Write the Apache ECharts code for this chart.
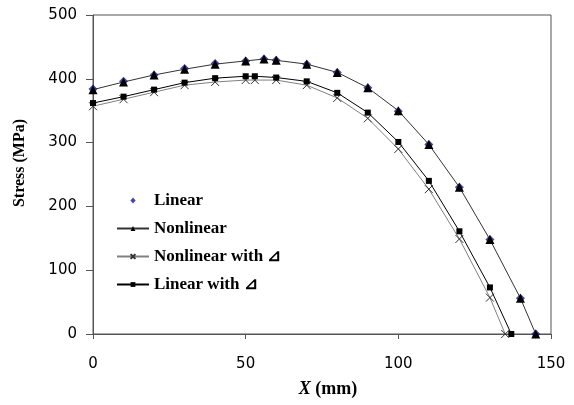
<!DOCTYPE html>
<html>
<head>
<meta charset="utf-8">
<script src="https://cdn.jsdelivr.net/npm/echarts@6/dist/echarts.min.js"></script>
<style>
  html, body { margin: 0; padding: 0; background: #fff; }
  #chart { width: 574px; height: 405px; }
</style>
</head>
<body>
<div id="chart"></div>
<script>
// Stress distribution along X for the four analysis cases
const xLinear = [0, 10, 20, 30, 40, 50, 56, 60, 70, 80, 90, 100, 110, 120, 130, 140, 145];
const linear = [384, 396, 406, 416, 424, 428, 431, 429, 423, 410, 386, 349, 297, 230, 148, 56, 0];

const xNonlinear = [0, 10, 20, 30, 40, 50, 56, 60, 70, 80, 90, 100, 110, 120, 130, 140, 145];
const nonlinear = [383, 395, 406, 415, 423, 428, 431, 429, 423, 410, 386, 350, 297, 230, 148, 56, 0];

const xNonlinearD = [0, 10, 20, 30, 40, 50, 53, 60, 70, 80, 90, 100, 110, 120, 130, 135];
const nonlinearD = [357, 368, 379, 390, 395, 398, 398, 398, 390, 370, 338, 290, 227, 149, 57, 0];

const xLinearD = [0, 10, 20, 30, 40, 50, 53, 60, 70, 80, 90, 100, 110, 120, 130, 137];
const linearD = [362, 372, 383, 394, 401, 404, 404, 402, 396, 378, 347, 301, 240, 161, 73, 0];

const seriesNames = ['Linear', 'Nonlinear', 'Nonlinear with \u22BF', 'Linear with \u22BF'];
const xTicks = { min: 0, max: 150, step: 50 };
const yTicks = { min: 0, max: 500, step: 100 };

const pairs = (xs, ys) => xs.map((x, i) => [x, ys[i]]);

const axisColor = '#555';
const tickFont = { fontFamily: 'DejaVu Sans', fontSize: 15, color: '#000' };
const serifBold = { fontFamily: 'Liberation Serif', fontWeight: 'bold', color: '#000' };

// small diamond centred in a wide, empty legend box
const legendDiamond = 'path://M0,0M32,9M16,0L20,4.5L16,9L12,4.5Z';

const chart = echarts.init(document.getElementById('chart'), null, { renderer: 'canvas' });

chart.setOption({
  animation: false,
  backgroundColor: '#fff',
  grid: {
    left: 93, right: 23, top: 15, bottom: 71,
    show: true, borderColor: axisColor, borderWidth: 1
  },
  legend: {
    orient: 'vertical',
    left: 111,
    top: 187,
    itemWidth: 32,
    itemHeight: 6,
    itemGap: 11,
    textStyle: Object.assign({ fontSize: 17 }, serifBold),
    data: [
      { name: seriesNames[0], icon: legendDiamond },
      seriesNames[1], seriesNames[2], seriesNames[3]
    ]
  },
  xAxis: {
    type: 'value',
    min: xTicks.min, max: xTicks.max, interval: xTicks.step,
    axisLine: { show: true, lineStyle: { color: axisColor, width: 1 } },
    axisTick: { show: true, inside: false, length: 5, lineStyle: { color: axisColor } },
    axisLabel: Object.assign({ margin: 23 }, tickFont),
    splitLine: { show: false }
  },
  yAxis: {
    type: 'value',
    min: yTicks.min, max: yTicks.max, interval: yTicks.step,
    axisLine: { show: true, lineStyle: { color: axisColor, width: 1 } },
    axisTick: { show: true, inside: false, length: 7, lineStyle: { color: axisColor } },
    axisLabel: Object.assign({ margin: 16 }, tickFont),
    splitLine: { show: false }
  },
  graphic: [
    {
      type: 'text',
      x: 20, y: 163,
      rotation: Math.PI / 2,
      style: {
        text: 'Stress (MPa)', fontSize: 16,
        fontFamily: 'Liberation Serif', fontWeight: 'bold',
        fill: '#000', align: 'center', verticalAlign: 'middle'
      }
    },
    {
      type: 'text',
      x: 328, y: 389,
      style: {
        text: '{i|X} (mm)',
        align: 'center', verticalAlign: 'middle',
        fontFamily: 'Liberation Serif', fontWeight: 'bold', fontSize: 18, fill: '#000',
        rich: {
          i: { fontFamily: 'Liberation Serif', fontWeight: 'bold', fontStyle: 'italic', fontSize: 18, fill: '#000' }
        }
      }
    }
  ],
  series: [
    {
      name: seriesNames[0],
      type: 'scatter',
      data: pairs(xLinear, linear),
      symbol: 'diamond',
      symbolSize: 9,
      itemStyle: { color: '#1a1a9a' },
      z: 2
    },
    {
      name: seriesNames[1],
      type: 'line',
      data: pairs(xNonlinear, nonlinear),
      symbol: 'triangle',
      symbolSize: 9,
      showAllSymbol: true,
      lineStyle: { color: '#333', width: 1 },
      itemStyle: { color: '#000' },
      z: 3
    },
    {
      name: seriesNames[2],
      type: 'line',
      data: pairs(xNonlinearD, nonlinearD),
      symbol: 'path://M0,0L10,10M10,0L0,10',
      symbolSize: 8,
      showAllSymbol: true,
      lineStyle: { color: '#808080', width: 1 },
      itemStyle: { color: 'rgba(0,0,0,0)', borderColor: '#333', borderWidth: 1 },
      z: 3
    },
    {
      name: seriesNames[3],
      type: 'line',
      data: pairs(xLinearD, linearD),
      symbol: 'rect',
      symbolSize: 6,
      showAllSymbol: true,
      lineStyle: { color: '#000', width: 1 },
      itemStyle: { color: '#000' },
      z: 4
    }
  ]
});
</script>
</body>
</html>
